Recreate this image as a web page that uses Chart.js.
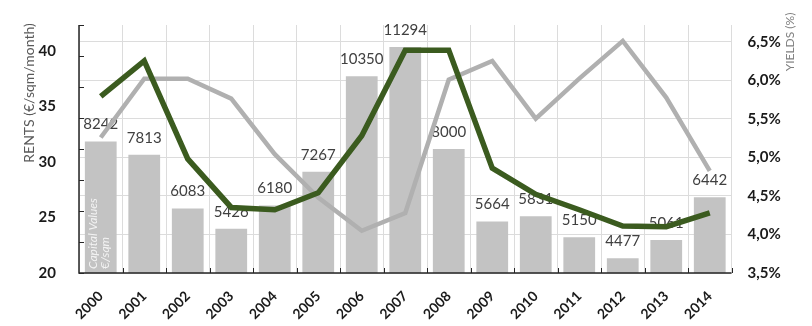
<!DOCTYPE html>
<html><head><meta charset="utf-8">
<script src="https://cdn.jsdelivr.net/npm/chart.js@4.4.0/dist/chart.umd.min.js"></script>
<style>html,body{margin:0;padding:0;background:#fff}#wrap{width:812px;height:326px;position:relative}</style>
</head><body><div id="wrap"><canvas id="c" width="812" height="326"></canvas></div>
<script>
const years = ['2000','2001','2002','2003','2004','2005','2006','2007','2008','2009','2010','2011','2012','2013','2014'];
const capitalValues = [8242,7813,6083,5426,6180,7267,10350,11294,8000,5664,5831,5150,4477,5061,6442];
const rents = [32.2,37.5,37.5,35.7,30.7,26.8,23.8,25.4,37.4,39.1,33.9,37.5,40.9,35.8,29.2];
const yields = [5.79,6.25,4.98,4.35,4.32,4.54,5.28,6.39,6.39,4.86,4.52,4.32,4.11,4.10,4.28];
const rentTicks = [20,25,30,35,40];
const yieldTicks = [3.5,4.0,4.5,5.0,5.5,6.0,6.5];
const capitalTicks = [4000,5000,6000,7000,8000,9000,10000,11000,12000];
const leftTitle = 'RENTS (€/sqm/month)';
const rightTitle = 'YIELDS (%)';
const barNote = ['Capital Values', '€/sqm'];

const deco = {
  id: 'deco',
  afterDatasetDraw(chart, args) {
    if (args.index !== 0) return;
    const ctx = chart.ctx;
    const meta = chart.getDatasetMeta(0);
    ctx.save();
    ctx.font = '15px Lato';
    ctx.fillStyle = '#404040';
    ctx.textAlign = 'center';
    ctx.textBaseline = 'alphabetic';
    meta.data.forEach((b, i) => {
      ctx.fillText(String(capitalValues[i]), b.x, b.y - 12);
    });
    const b0 = meta.data[0];
    const base = chart.chartArea.bottom - 4;
    ctx.translate(b0.x - 8, base);
    ctx.rotate(-Math.PI / 2);
    ctx.font = 'italic 12px Lato';
    ctx.fillStyle = 'rgba(255,255,255,0.8)';
    ctx.textAlign = 'left';
    ctx.textBaseline = 'middle';
    ctx.fillText(barNote[0], 0, 0);
    ctx.fillText(barNote[1], 0, 12);
    ctx.restore();
  },
  afterDatasetsDraw(chart) {
    const ctx = chart.ctx;
    const a = chart.chartArea;
    const yb = chart.scales.yBar;
    const x = chart.scales.x;
    ctx.save();
    ctx.strokeStyle = '#262626';
    ctx.lineWidth = 1.5;
    ctx.beginPath();
    ctx.moveTo(a.left, a.top);
    ctx.lineTo(a.left, a.bottom);
    ctx.lineTo(a.right, a.bottom);
    ctx.stroke();
    ctx.lineWidth = 1;
    ctx.beginPath();
    capitalTicks.forEach(v => {
      const y = Math.round(yb.getPixelForValue(v)) + 0.5;
      ctx.moveTo(a.left, y); ctx.lineTo(a.left + 5, y);
    });
    const w = (a.right - a.left) / years.length;
    for (let i = 1; i <= years.length; i++) {
      const px = Math.round(x.getPixelForValue(i - 1) + w / 2) + 0.5;
      ctx.moveTo(px, a.bottom); ctx.lineTo(px, a.bottom - 5);
    }
    ctx.stroke();
    ctx.fillStyle = '#595959';
    ctx.font = '14px Lato';
    ctx.textAlign = 'center';
    ctx.textBaseline = 'middle';
    ctx.save();
    ctx.translate(29, 93);
    ctx.rotate(-Math.PI / 2);
    ctx.fillText(leftTitle, 0, 0);
    ctx.restore();
    ctx.fillStyle = '#7f7f7f';
    ctx.font = '12px Lato';
    ctx.save();
    ctx.translate(790, 42);
    ctx.rotate(-Math.PI / 2);
    ctx.fillText(rightTitle, 0, 0);
    ctx.restore();
    ctx.restore();
  }
};

new Chart(document.getElementById('c'), {
  data: {
    labels: years,
    datasets: [
      { type: 'bar', data: capitalValues, yAxisID: 'yBar', backgroundColor: '#c3c3c3', borderWidth: 0,
        barPercentage: 1, categoryPercentage: 0.73, order: 3 },
      { type: 'line', data: rents, yAxisID: 'yRent', borderColor: '#b0b0b0', borderWidth: 4.5,
        pointRadius: 0, tension: 0, fill: false, order: 2 },
      { type: 'line', data: yields, yAxisID: 'yYield', borderColor: '#3b5b1f', borderWidth: 5.5,
        pointRadius: 0, tension: 0, fill: false, order: 1 }
    ]
  },
  options: {
    responsive: false,
    devicePixelRatio: 1,
    animation: false,
    layout: { padding: { top: 5, left: 0, right: 0, bottom: 0 } },
    plugins: { legend: { display: false }, tooltip: { enabled: false } },
    scales: {
      x: {
        type: 'category', offset: true,
        grid: { offset: true, color: '#dcdcdc', lineWidth: 1, drawTicks: false },
        border: { display: false },
        ticks: { maxRotation: 45, minRotation: 45, autoSkip: false, padding: 15,
          font: { family: 'Lato', weight: 'bold', size: 14 }, color: '#1a1a1a' },
        afterFit: s => { s.height = 53; }
      },
      yBar: { type: 'linear', display: false, position: 'left', min: 4000, max: 12000 },
      yRent: {
        type: 'linear', position: 'left', min: 20, max: 20 + 268 / 12,
        grid: { display: false }, border: { display: false },
        ticks: { stepSize: 5, padding: 15, font: { family: 'Lato', weight: 'bold', size: 15 }, color: '#1a1a1a' },
        afterBuildTicks: s => { s.ticks = rentTicks.map(v => ({ value: v })); },
        afterFit: s => { s.width = 79; }
      },
      yYield: {
        type: 'linear', position: 'right', min: 3.5, max: 3.5 + 268 / (250 / 3),
        grid: { color: '#dcdcdc', lineWidth: 1, drawTicks: false }, border: { display: false },
        ticks: { stepSize: 0.5, padding: 16, font: { family: 'Lato', weight: 'bold', size: 15 }, color: '#1a1a1a',
          callback: v => v.toFixed(1).replace('.', ',') + '%' },
        afterBuildTicks: s => { s.ticks = yieldTicks.map(v => ({ value: v })); },
        afterFit: s => { s.width = 80.5; }
      }
    }
  },
  plugins: [deco]
});
</script>
</body></html>
